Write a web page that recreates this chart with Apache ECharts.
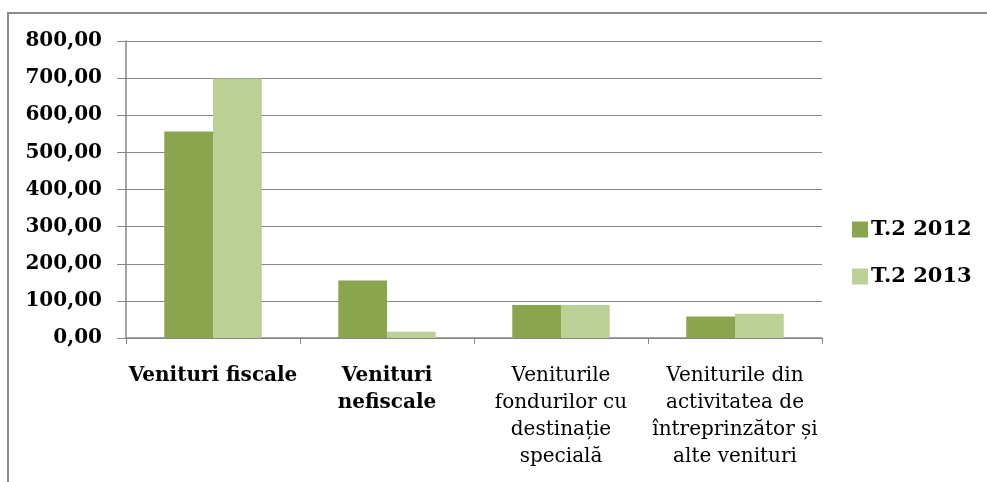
<!DOCTYPE html>
<html>
<head>
  <meta charset="UTF-8">
  <title>Venituri T.2</title>
  <script src="https://cdn.jsdelivr.net/npm/echarts@6/dist/echarts.min.js"></script>
  <style>
  html, body { margin: 0; padding: 0; background: #fff; }
  #chart { width: 987px; height: 482px; }
  </style>
</head>
<body>
  <div id="chart"></div>
<script>
var categories = ['Venituri fiscale', 'Venituri\nnefiscale', 'Veniturile\nfondurilor cu\ndestinație\nspecială', 'Veniturile din\nactivitatea de\nîntreprinzător și\nalte venituri'];
var boldCategories = [true, true, false, false];
var seriesNames = ['T.2 2012', 'T.2 2013'];
var values2012 = [556, 155, 89, 58];
var values2013 = [699, 17, 89, 65];

var FONT = 'DejaVu Serif';
var chart = echarts.init(document.getElementById('chart'));

var option = {
  animation: false,
  textStyle: { fontFamily: FONT },
  graphic: [{
    type: 'rect',
    shape: { x: 8, y: 13, width: 1000, height: 500 },
    style: { fill: 'none', stroke: '#8c8c8c', lineWidth: 2 }
  }],
  grid: { left: 126, right: 165, top: 41, bottom: 144 },
  legend: {
    orient: 'vertical',
    left: 847,
    top: 214,
    itemWidth: 16,
    itemHeight: 16,
    itemGap: 26,
    icon: 'rect',
    textStyle: { fontFamily: FONT, fontWeight: 'bold', fontSize: 21, color: '#000', padding: [0, 0, 0, -2] },
    data: seriesNames
  },
  xAxis: {
    type: 'category',
    data: categories.map(function (c, i) {
      return { value: c, textStyle: { fontWeight: boldCategories[i] ? 'bold' : 'normal' } };
    }),
    axisLine: { lineStyle: { color: '#868686', width: 1.5 } },
    axisTick: { show: true, length: 6, lineStyle: { color: '#868686' } },
    axisLabel: {
      interval: 0,
      margin: 24,
      color: '#000',
      fontFamily: FONT,
      fontSize: 20,
      lineHeight: 27
    }
  },
  yAxis: {
    type: 'value',
    min: 0,
    max: 800,
    interval: 100,
    axisLine: { show: true, lineStyle: { color: '#868686', width: 1.5 } },
    axisTick: { show: true, length: 9, lineStyle: { color: '#868686' } },
    splitLine: { lineStyle: { color: '#868686', width: 1 } },
    axisLabel: {
      margin: 24,
      color: '#000',
      fontFamily: FONT,
      fontWeight: 'bold',
      fontSize: 20,
      formatter: function (v) { return v.toFixed(2).replace('.', ','); }
    }
  },
  series: [{
    name: seriesNames[0],
    type: 'bar',
    data: values2012,
    barGap: '0%',
    barCategoryGap: '44%',
    itemStyle: { color: '#8aa54e' }
  }, {
    name: seriesNames[1],
    type: 'bar',
    data: values2013,
    itemStyle: { color: '#bad095' }
  }]
};

chart.setOption(option);
</script>
</body>
</html>
